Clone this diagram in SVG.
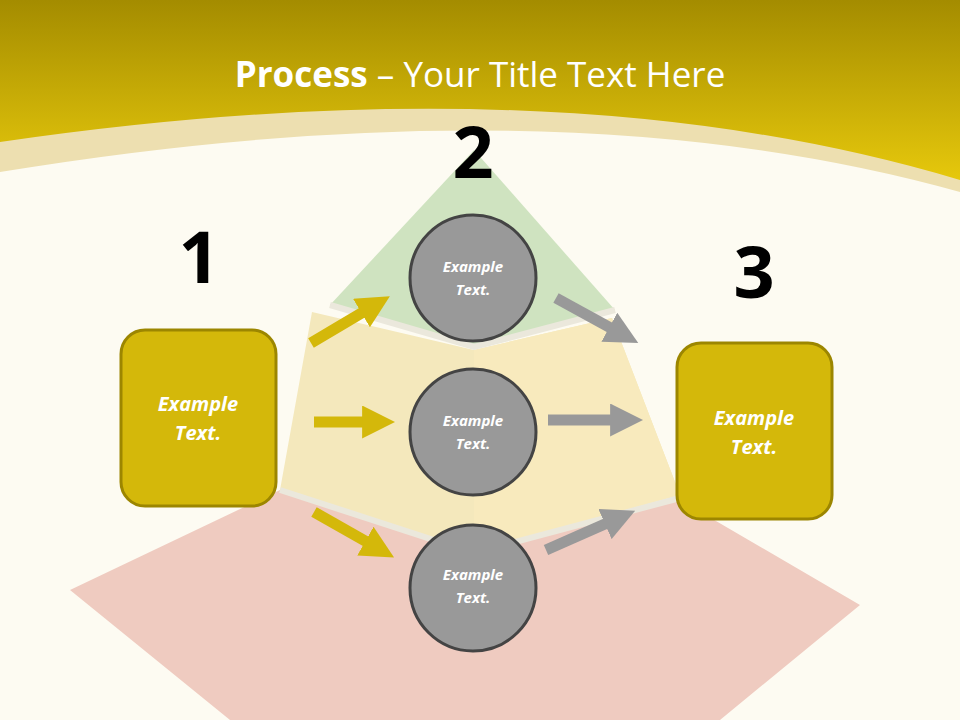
<svg xmlns="http://www.w3.org/2000/svg" width="960" height="720" viewBox="0 0 960 720">
<defs>
<linearGradient id="hdr" x1="0" y1="0" x2="0" y2="1"><stop offset="0" stop-color="#a48c00"/><stop offset="1" stop-color="#e6c80c"/></linearGradient>
<marker id="ay" viewBox="0 0 10 10" refX="3" refY="5" markerWidth="3" markerHeight="3" orient="auto"><path d="M0,0 L10,5 L0,10 z" fill="#d4b80a"/></marker>
<marker id="ag" viewBox="0 0 10 10" refX="3" refY="5" markerWidth="3" markerHeight="3" orient="auto"><path d="M0,0 L10,5 L0,10 z" fill="#999"/></marker>
<style>
.box{fill:#d4b80a;stroke:#9c8600;stroke-width:3}
.circ{fill:#999;stroke:#444;stroke-width:3}
.lbl{font-family:"Open Sans","Liberation Sans",sans-serif;font-style:italic;font-weight:bold;fill:#fff;text-anchor:middle}
.num{font-family:"Open Sans","Liberation Sans",sans-serif;font-weight:bold;font-size:72px;fill:#000;text-anchor:middle}
.ya{stroke:#d4b80a;stroke-width:11;fill:none;marker-end:url(#ay)}
.ga{stroke:#999;stroke-width:11;fill:none;marker-end:url(#ag)}
</style>
</defs>
<rect width="960" height="720" fill="#fdfbf2"/>
<path d="M0,0 H960 V192 Q560,80 0,172 Z" fill="#eddfb0"/>
<path d="M0,0 H960 V180 Q560,60 0,142 Z" fill="url(#hdr)"/>
<text x="480" y="87" text-anchor="middle" font-family="'Open Sans','Liberation Sans',sans-serif" font-size="35" fill="#fff"><tspan font-weight="bold">Process</tspan> – Your Title Text Here</text>
<g id="pyramid">
<path d="M280,490 L474,555 L680,500 L860,605 L720,720 L230,720 L70,590 Z" fill="#efcbc0"/>
<path d="M312,312 L474,350 L612,318 L680,495 L474,552 L280,490 Z" fill="#f4e8bc"/>
<path d="M474,350 L612,318 L680,495 L474,552 Z" fill="#f8eabd"/>
<path d="M474,150 L330,305 L474,347 L615,310 Z" fill="#cfe3c0"/>
<path d="M330,305 L474,347 L615,310" fill="none" stroke="#ebe8dc" stroke-width="6"/>
<path d="M280,490 L474,553 L680,498" fill="none" stroke="#ebe8dc" stroke-width="6"/>
</g>
<text class="num" x="199" y="283">1</text>
<text class="num" x="473" y="178">2</text>
<text class="num" x="754" y="298">3</text>
<g id="n1"><rect class="box" x="121" y="330" width="155" height="176" rx="24"/><text class="lbl" font-size="20" x="198" y="411">Example</text><text class="lbl" font-size="20" x="198" y="440">Text.</text></g>
<g id="n3"><rect class="box" x="677" y="343" width="155" height="176" rx="24"/><text class="lbl" font-size="20" x="754" y="425">Example</text><text class="lbl" font-size="20" x="754" y="454">Text.</text></g>
<g id="c1"><circle class="circ" cx="473" cy="278" r="63"/><text class="lbl" font-size="15" x="473" y="272">Example</text><text class="lbl" font-size="15" x="473" y="295">Text.</text></g>
<g id="c2"><circle class="circ" cx="473" cy="432" r="63"/><text class="lbl" font-size="15" x="473" y="426">Example</text><text class="lbl" font-size="15" x="473" y="449">Text.</text></g>
<g id="c3"><circle class="circ" cx="473" cy="588" r="63"/><text class="lbl" font-size="15" x="473" y="580">Example</text><text class="lbl" font-size="15" x="473" y="603">Text.</text></g>
<g id="connectors">
<path class="ya" d="M311,343 L370,308"/>
<path class="ya" d="M314,422 L372,422"/>
<path class="ya" d="M314,512 L374,546"/>
<path class="ga" d="M556,298 L618,332"/>
<path class="ga" d="M548,420 L620,420"/>
<path class="ga" d="M546,550 L614,520"/>
</g>
</svg>
